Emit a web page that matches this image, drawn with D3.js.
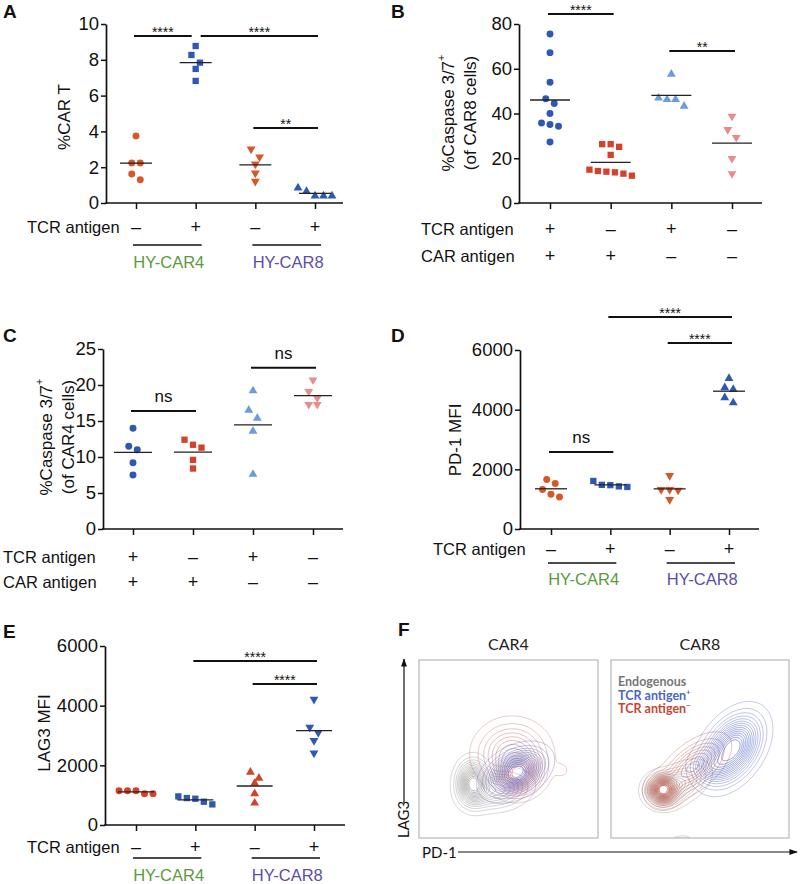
<!DOCTYPE html>
<html><head><meta charset="utf-8">
<script src="https://cdn.jsdelivr.net/npm/d3@7"></script>
<style>body{margin:0;background:#fff}</style>
</head><body>
<svg id="c" width="800" height="884"></svg>
<script>
// ================= DATA =================
const groupNames = ["CAR4 TCR−", "CAR4 TCR+", "CAR8 TCR−", "CAR8 TCR+"];
// Panel A: %CAR T
const valuesA = [[3.75, 2.23, 2.23, 1.62, 1.30], [8.77, 8.27, 7.84, 7.49, 6.82], [3.01, 2.57, 2.17, 1.67, 1.21], [0.84, 0.40, 0.40, 0.40, 0.65]];
const ticksA = [0, 2, 4, 6, 8, 10];
const tcrA = ["–", "+", "–", "+"];
const sigA = [[0, 1, "****", 9.33], [1, 3, "****", 9.33], [2, 3, "**", 4.19]];
// Panel B: %Caspase 3/7+ of CAR8 cells
const valuesB = [[75.5, 67.2, 54.0, 46.6, 44.5, 40.0, 35.1, 34.3, 35.8, 27.3], [26.3, 25.1, 26.3, 21.5, 14.3, 13.7, 12.2, 13.1, 14.0, 14.9], [57.6, 46.3, 43.3, 46.3, 46.9], [38.8, 32.8, 29.3, 19.9, 13.1]];
const ticksB = [0, 20, 40, 60, 80];
const tcrB = ["+", "–", "+", "–"];
const carB = ["+", "+", "–", "–"];
const sigB = [[0, 1, "****", 84.5], [2, 3, "**", 67.9]];
// Panel C: %Caspase 3/7+ of CAR4 cells
const valuesC = [[14.0, 11.0, 11.5, 9.2, 7.5], [11.7, 12.4, 11.3, 9.6, 8.4], [19.2, 16.5, 15.4, 13.6, 7.6], [20.7, 19.1, 18.2, 17.3, 17.3]];
const ticksC = [0, 5, 10, 15, 20, 25];
const tcrC = ["+", "–", "+", "–"];
const carC = ["+", "+", "–", "–"];
const sigC = [[0, 1, "ns", 16.4], [2, 3, "ns", 22.4]];
// Panel D: PD-1 MFI
const valuesD = [[1657, 1522, 1321, 1075, 1164], [1610, 1470, 1410, 1430, 1480], [1790, 1320, 1320, 1300, 985], [5050, 4735, 4680, 4400, 4230]];
const ticksD = [0, 2000, 4000, 6000];
const tcrD = ["–", "+", "–", "+"];
const sigD = [[0, 1, "ns", 2580], [1, 3, "****", 7107], [2, 3, "****", 6235]];
// Panel E: LAG3 MFI
const valuesE = [[1148, 1148, 1048, 1048, 1148], [959, 881, 691, 780, 903], [1773, 1572, 1405, 1048, 736], [4214, 3278, 3099, 2832, 2408]];
const ticksE = [0, 2000, 4000, 6000];
const tcrE = ["–", "+", "–", "+"];
const sigE = [[1, 3, "****", 5498], [2, 3, "****", 4727]];
const cellGroups = ["HY-CAR4", "HY-CAR8"];
// Panel F: contour populations as gaussian components [PD-1, LAG3, sdX, sdY, rotationDeg, weight] (0-100 scale)
const fCar4Endogenous = [[30, 31, 5, 7, 0, 1], [44, 27, 10, 6, 10, 0.5]];
const fCar4TcrMinus = [[56, 35, 7, 6, 20, 1], [52, 47, 11, 10, 0, 0.6], [80, 38, 3, 3, 0, 0.07]];
const fCar4TcrPlus = [[54, 37, 9.5, 6, 30, 1]];
const fCar8Endogenous = [[29, 27, 5.5, 5, 0, 1], [40, 31, 9, 5.5, 30, 0.45], [40, -1, 5, 2.2, 0, 0.09]];
const fCar8TcrMinus = [[29, 27, 4.5, 4.5, 0, 1], [46, 40, 12, 6, 40, 0.55]];
const fCar8TcrPlus = [[68, 50, 12, 7.5, 55, 1], [55, 40, 6, 5, 0, 0.3]];
const fLegend = ["Endogenous", "TCR antigen", "TCR antigen"];
const fTitles = ["CAR4", "CAR8"];

// ================= STYLE =================
const FONT = "'Liberation Sans', Arial, Helvetica, sans-serif";
const FONT_F = "Lato, 'Open Sans', sans-serif";
const C = {orange: "#d9562a", blue: "#2d59b5", red: "#d2432a", lightBlue: "#6b9cdb", pink: "#ea8c8c",
  green: "#5a9a40", purple: "#5a4ea8"};

const svg = d3.select("#c");

function swarmOffsets(vals, y, s) {
  const idx = d3.range(vals.length).sort((a, b) => y(vals[a]) - y(vals[b]));
  const rows = [];
  idx.forEach(i => {
    const r = rows[rows.length - 1];
    if (r && Math.abs(y(vals[i]) - y(vals[r[0]])) < s * 0.95) r.push(i);
    else rows.push([i]);
  });
  const off = new Array(vals.length).fill(0);
  rows.forEach(r => r.forEach((i, k) => off[i] = (k - (r.length - 1) / 2) * s));
  return off;
}

function symbolPath(shape) {
  if (shape === "circle") return d3.symbol(d3.symbolCircle, 38)();
  if (shape === "square") return d3.symbol(d3.symbolSquare, 40)();
  return d3.symbol(d3.symbolTriangle, 34)();
}

function scatterPanel(cfg) {
  const g = svg.append("g");
  const y = d3.scaleLinear().domain([0, cfg.max]).range([cfg.yBot, cfg.yTop]);
  const x = d3.scalePoint().domain(d3.range(4)).range(cfg.cats);
  // y axis
  const ya = g.append("g").attr("transform", `translate(${cfg.x0},0)`)
    .call(d3.axisLeft(y).tickValues(cfg.ticks).tickFormat(d3.format("d")).tickSize(5).tickSizeOuter(0).tickPadding(2));
  ya.select(".domain").attr("stroke", "#111").attr("stroke-width", 1.7);
  ya.selectAll(".tick line").attr("stroke", "#111").attr("stroke-width", 1.5);
  ya.selectAll("text").attr("font-family", FONT).attr("font-size", 18.5).attr("fill", "#111");
  // x axis
  g.append("line").attr("x1", cfg.x0 - 0.8).attr("x2", cfg.xRight).attr("y1", cfg.yBot).attr("y2", cfg.yBot)
    .attr("stroke", "#111").attr("stroke-width", 1.7);
  const xa = g.append("g").attr("transform", `translate(0,${cfg.yBot})`)
    .call(d3.axisBottom(x).tickSize(6).tickFormat(""));
  xa.select(".domain").remove();
  xa.selectAll(".tick line").attr("stroke", "#111").attr("stroke-width", 1.5);
  // points
  cfg.values.forEach((vals, gi) => {
    const off = swarmOffsets(vals, y, 8.5);
    const m = cfg.markers[gi];
    g.selectAll(null).data(vals).join("path")
      .attr("d", symbolPath(m.shape))
      .attr("transform", (d, i) => `translate(${x(gi) + off[i]},${y(d)})` + (m.shape === "down" ? " rotate(180)" : ""))
      .attr("fill", m.color);
    const mean = d3.mean(vals);
    g.append("line").attr("x1", x(gi) - cfg.lineW / 2).attr("x2", x(gi) + cfg.lineW / 2)
      .attr("y1", y(mean)).attr("y2", y(mean)).attr("stroke", "#222").attr("stroke-width", 1.3);
  });
  // significance bars
  cfg.sig.forEach(([a, b, lab, lv]) => {
    const shared = cfg.sig.some(s => s[0] === b && s[3] === lv);
    const startShared = cfg.sig.some(s => s[1] === a && s[3] === lv);
    const x1 = startShared ? x(a) + 5 : x(a) - 2;
    const x2 = shared ? x(b) - 4 : x(b) + 3;
    const yy = y(lv);
    g.append("line").attr("x1", x1).attr("x2", x2).attr("y1", yy).attr("y2", yy)
      .attr("stroke", "#111").attr("stroke-width", 2);
    const isStar = lab.indexOf("*") >= 0;
    g.append("text").attr("x", (x1 + x2) / 2).attr("y", isStar ? yy + 1 : yy - 9)
      .attr("text-anchor", "middle").attr("font-family", FONT)
      .attr("font-size", isStar ? 14 : 17).attr("fill", "#111").text(lab);
  });
  // panel letter
  g.append("text").attr("x", cfg.letterX).attr("y", cfg.letterY).attr("font-family", FONT)
    .attr("font-weight", "bold").attr("font-size", 19).attr("fill", "#111").text(cfg.letter);
  // y title
  cfg.yTitle.forEach(t => {
    const tx = g.append("text").attr("transform", `translate(${t.x},${cfg.yTitleY}) rotate(-90)`)
      .attr("text-anchor", "middle").attr("dominant-baseline", "central")
      .attr("font-family", FONT).attr("font-size", 17).attr("fill", "#111");
    tx.append("tspan").text(t.text);
    if (t.sup) tx.append("tspan").attr("font-size", 11).attr("dy", -7).text(t.sup);
  });
  // rows of +/- signs
  cfg.rows.forEach(r => {
    g.append("text").attr("x", r.labelX).attr("y", r.y).attr("font-family", FONT).attr("font-size", 16.5)
      .attr("fill", "#111").text(r.label);
    g.selectAll(null).data(r.signs).join("text")
      .attr("x", (d, i) => x(i)).attr("y", r.y).attr("text-anchor", "middle")
      .attr("font-family", FONT).attr("font-size", 18).attr("fill", "#111").text(d => d);
  });
  // group underline + cell group labels
  if (cfg.groupY) {
    [[0, 1], [2, 3]].forEach(([a, b], k) => {
      g.append("line").attr("x1", x(a) - 3).attr("x2", x(b) + 6).attr("y1", cfg.groupY).attr("y2", cfg.groupY)
        .attr("stroke", "#111").attr("stroke-width", 1.5);
      g.append("text").attr("x", (x(a) + x(b)) / 2 + 3).attr("y", cfg.groupLabelY).attr("text-anchor", "middle")
        .attr("font-family", FONT).attr("font-size", 16.5).attr("fill", k === 0 ? C.green : C.purple)
        .text(cellGroups[k]);
    });
  }
}

// ---- Panel A ----
scatterPanel({letter: "A", letterX: 3, letterY: 18, x0: 106, yTop: 24, yBot: 203, xRight: 343, cats: [136, 315],
  max: 10, ticks: ticksA, values: valuesA,
  markers: [{shape: "circle", color: C.orange}, {shape: "square", color: C.blue}, {shape: "down", color: C.orange}, {shape: "up", color: C.blue}],
  sig: sigA, lineW: 32,
  yTitle: [{x: 64, text: "%CAR T"}], yTitleY: 117,
  rows: [{label: "TCR antigen", labelX: 27, y: 233, signs: tcrA}],
  groupY: 245, groupLabelY: 268});
// ---- Panel B ----
scatterPanel({letter: "B", letterX: 391, letterY: 18, x0: 519, yTop: 24, yBot: 203, xRight: 762, cats: [550, 732],
  max: 80, ticks: ticksB, values: valuesB,
  markers: [{shape: "circle", color: C.blue}, {shape: "square", color: C.red}, {shape: "up", color: C.lightBlue}, {shape: "down", color: C.pink}],
  sig: sigB, lineW: 40,
  yTitle: [{x: 448, text: "%Caspase 3/7", sup: "+"}, {x: 470, text: "(of CAR8 cells)"}], yTitleY: 113,
  rows: [{label: "TCR antigen", labelX: 421, y: 235, signs: tcrB}, {label: "CAR antigen", labelX: 421, y: 262, signs: carB}]});
// ---- Panel C ----
scatterPanel({letter: "C", letterX: 3, letterY: 342, x0: 103, yTop: 349, yBot: 529, xRight: 343, cats: [133, 313],
  max: 25, ticks: ticksC, values: valuesC,
  markers: [{shape: "circle", color: C.blue}, {shape: "square", color: C.red}, {shape: "up", color: C.lightBlue}, {shape: "down", color: C.pink}],
  sig: sigC, lineW: 38,
  yTitle: [{x: 46, text: "%Caspase 3/7", sup: "+"}, {x: 68, text: "(of CAR4 cells)"}], yTitleY: 437,
  rows: [{label: "TCR antigen", labelX: 3, y: 563, signs: tcrC}, {label: "CAR antigen", labelX: 3, y: 588, signs: carC}]});
// ---- Panel D ----
scatterPanel({letter: "D", letterX: 391, letterY: 342, x0: 520, yTop: 350, yBot: 529, xRight: 759, cats: [551, 729],
  max: 6000, ticks: ticksD, values: valuesD,
  markers: [{shape: "circle", color: C.orange}, {shape: "square", color: C.blue}, {shape: "down", color: C.orange}, {shape: "up", color: C.blue}],
  sig: sigD, lineW: 32,
  yTitle: [{x: 455, text: "PD-1 MFI"}], yTitleY: 440,
  rows: [{label: "TCR antigen", labelX: 433, y: 555, signs: tcrD}],
  groupY: 563, groupLabelY: 585});
// ---- Panel E ----
scatterPanel({letter: "E", letterX: 3, letterY: 638, x0: 105, yTop: 646, yBot: 825, xRight: 345, cats: [136, 314],
  max: 6000, ticks: ticksE, values: valuesE,
  markers: [{shape: "circle", color: C.red}, {shape: "square", color: C.blue}, {shape: "up", color: C.red}, {shape: "down", color: C.blue}],
  sig: sigE, lineW: 36,
  yTitle: [{x: 44, text: "LAG3 MFI"}], yTitleY: 733,
  rows: [{label: "TCR antigen", labelX: 27, y: 853, signs: tcrE}],
  groupY: 858, groupLabelY: 881});

// ---- Panel F: contour plots ----
(function () {
  const g = svg.append("g");
  g.append("text").attr("x", 398).attr("y", 636).attr("font-family", FONT).attr("font-weight", "bold")
    .attr("font-size", 19).attr("fill", "#111").text("F");
  const boxes = [{x0: 419, x1: 598}, {x0: 611, x1: 789}];
  const yTop = 660, yBot = 838;
  const pops = [
    [[fCar4Endogenous, "#8a8a8a"], [fCar4TcrMinus, "#d06060"], [fCar4TcrPlus, "#5064c4"]],
    [[fCar8Endogenous, "#8a8a8a"], [fCar8TcrMinus, "#c94a38"], [fCar8TcrPlus, "#5064c4"]]
  ];
  const N = 220;
  boxes.forEach((b, bi) => {
    const xs = d3.scaleLinear().domain([0, 100]).range([b.x0, b.x1]);
    const ys = d3.scaleLinear().domain([0, 100]).range([yBot, yTop]);
    const clipId = "clip" + bi;
    g.append("clipPath").attr("id", clipId).append("rect")
      .attr("x", b.x0).attr("y", yTop).attr("width", b.x1 - b.x0).attr("height", yBot - yTop);
    const cg = g.append("g").attr("clip-path", `url(#${clipId})`);
    const proj = d3.geoPath(d3.geoTransform({
      point(px, py) { this.stream.point(xs(px * 100 / N), ys(100 - py * 100 / N)); }
    }));
    pops[bi].forEach(([comps, color]) => {
      const vals = new Float64Array(N * N);
      for (let j = 0; j < N; j++) {
        const uy = 100 - (j + 0.5) * 100 / N;
        for (let i = 0; i < N; i++) {
          const ux = (i + 0.5) * 100 / N;
          let s = 0;
          comps.forEach(([cx, cy, sx, sy, rot, w]) => {
            const a = rot * Math.PI / 180, dx = ux - cx, dy = uy - cy;
            const u = dx * Math.cos(a) + dy * Math.sin(a), v = -dx * Math.sin(a) + dy * Math.cos(a);
            s += w * Math.exp(-0.5 * (u * u / (sx * sx) + v * v / (sy * sy)));
          });
          vals[i + j * N] = s;
        }
      }
      const mx = d3.max(vals);
      const levels = d3.range(15).map(k => mx * (0.045 + k * 0.06));
      const conts = d3.contours().size([N, N]).thresholds(levels)(vals);
      const op = d3.scaleLinear().domain([0, conts.length - 1]).range([0.5, 0.9]);
      cg.selectAll(null).data(conts).join("path")
        .attr("d", proj).attr("fill", "none").attr("stroke", color)
        .attr("stroke-width", 0.7).attr("stroke-opacity", (d, i) => op(i));
    });
    g.append("rect").attr("x", b.x0).attr("y", yTop).attr("width", b.x1 - b.x0).attr("height", yBot - yTop)
      .attr("fill", "none").attr("stroke", "#a8a8a8").attr("stroke-width", 1);
    g.append("text").attr("x", (b.x0 + b.x1) / 2).attr("y", 650).attr("text-anchor", "middle")
      .attr("font-family", FONT_F).attr("font-size", 16).attr("fill", "#222").text(fTitles[bi]);
  });
  // legend
  const legColors = ["#777777", "#4a66c0", "#c8462f"];
  const legSup = ["", "+", "−"];
  fLegend.forEach((t, i) => {
    const tx = g.append("text").attr("x", 618).attr("y", 686 + i * 13.5).attr("font-family", FONT_F)
      .attr("font-weight", "bold").attr("font-size", 12.5).attr("fill", legColors[i]);
    tx.append("tspan").text(t);
    if (legSup[i]) tx.append("tspan").attr("font-size", 8).attr("dy", -5).text(legSup[i]);
  });
  // axis arrows
  const defs = svg.append("defs");
  defs.append("marker").attr("id", "arr").attr("viewBox", "0 0 10 10").attr("refX", 9).attr("refY", 5)
    .attr("markerWidth", 7).attr("markerHeight", 7).attr("orient", "auto")
    .append("path").attr("d", "M0,1.5L10,5L0,8.5Z").attr("fill", "#111");
  g.append("line").attr("x1", 458).attr("x2", 797).attr("y1", 852).attr("y2", 852)
    .attr("stroke", "#111").attr("stroke-width", 1.2).attr("marker-end", "url(#arr)");
  g.append("text").attr("x", 422).attr("y", 858).attr("font-family", FONT_F).attr("font-size", 15).attr("fill", "#111").text("PD-1");
  g.append("line").attr("x1", 404).attr("x2", 404).attr("y1", 803).attr("y2", 659)
    .attr("stroke", "#111").attr("stroke-width", 1.2).attr("marker-end", "url(#arr)");
  g.append("text").attr("transform", "translate(409,838) rotate(-90)").attr("font-family", FONT_F)
    .attr("font-size", 15).attr("fill", "#111").text("LAG3");
})();
</script>
</body></html>
